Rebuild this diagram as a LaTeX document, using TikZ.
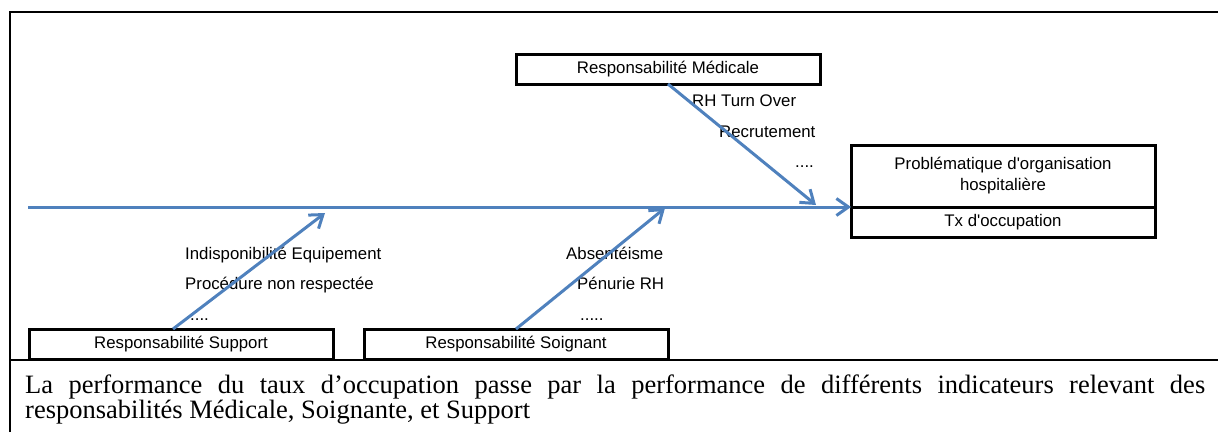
\documentclass[tikz,border=0pt]{standalone}
\usepackage{fontspec}
\setmainfont{Liberation Serif}
\setsansfont{Liberation Sans}
\usetikzlibrary{arrows.meta,positioning}
\definecolor{fishblue}{HTML}{4F81BD}
\tikzset{
  rbox/.style ={rectangle,draw,line width=3pt,minimum width=304pt,
                minimum height=30pt,inner sep=0pt,outer sep=0pt,align=center,
                font=\sffamily\fontsize{16.8}{21}\selectfont},
  cause/.style={anchor=base west,inner sep=0pt,
                font=\sffamily\fontsize{16.8}{21}\selectfont},
  arr/.style  ={-{Straight Barb[length=12pt,width=17pt]},line width=3pt,
                draw=fishblue},
  frame/.style={line width=2.2pt}
}

\begin{document}
\begin{tikzpicture}[x=1pt,y=-1pt]
  \useasboundingbox (0,0) rectangle (1218,432);
  \draw[frame] (10,432) -- (10,12) -- (1218,12);
  \draw[frame] (10,360) -- (1218,360);

  \node (medic)   [rbox] at (668,69)  {Responsabilité Médicale};
  \node (support) [rbox] at (181,344) {Responsabilité Support};
  \node (soign)   [rbox] at (516,344) {Responsabilité Soignant};
  \node (prob)    [rbox,minimum height=62pt] at (1003,176)
                  {Problématique d\textquotesingle organisation\\hospitalière};
  \node (tx)      [rbox,below=0pt of prob] {Tx d\textquotesingle occupation};

  \node (turn)  [cause] at (692,106) {RH Turn Over};
  \node (recr)  [cause] at (719,137) {Recrutement};
  \node (mdots) [cause] at (795,167) {....};
  \node (equip) [cause] at (185,259) {Indisponibilité Equipement};
  \node (proc)  [cause] at (185,289) {Procédure non respectée};
  \node (sdots) [cause] at (190,320) {....};
  \node (abs)   [cause] at (566,259) {Absentéisme};
  \node (penu)  [cause] at (577,289) {Pénurie RH};
  \node (ndots) [cause] at (580,320) {.....};

  \coordinate (tail) at (28,207);
  \coordinate (mtip) at (816,205);
  \coordinate (stip) at (325,213);
  \coordinate (ntip) at (665,208);

  \draw [arr] (tail) -- (prob.south west);
  \draw [arr] (medic.south) -- (mtip);
  \draw [arr] ([xshift=-8pt]support.north) -- (stip);
  \draw [arr] (soign.north) -- (ntip);

  \node (caption) [anchor=north west,inner sep=0pt,text width=1180pt,align=justify,
        font={\fontsize{26.5}{24.5}\selectfont\lineskiplimit=-20pt\tolerance=9999}]
        at (25,375) {La performance du taux d’occupation passe par la performance
        de différents indicateurs relevant des\linebreak responsabilités Médicale,
        Soignante, et Support};
\end{tikzpicture}
\end{document}
